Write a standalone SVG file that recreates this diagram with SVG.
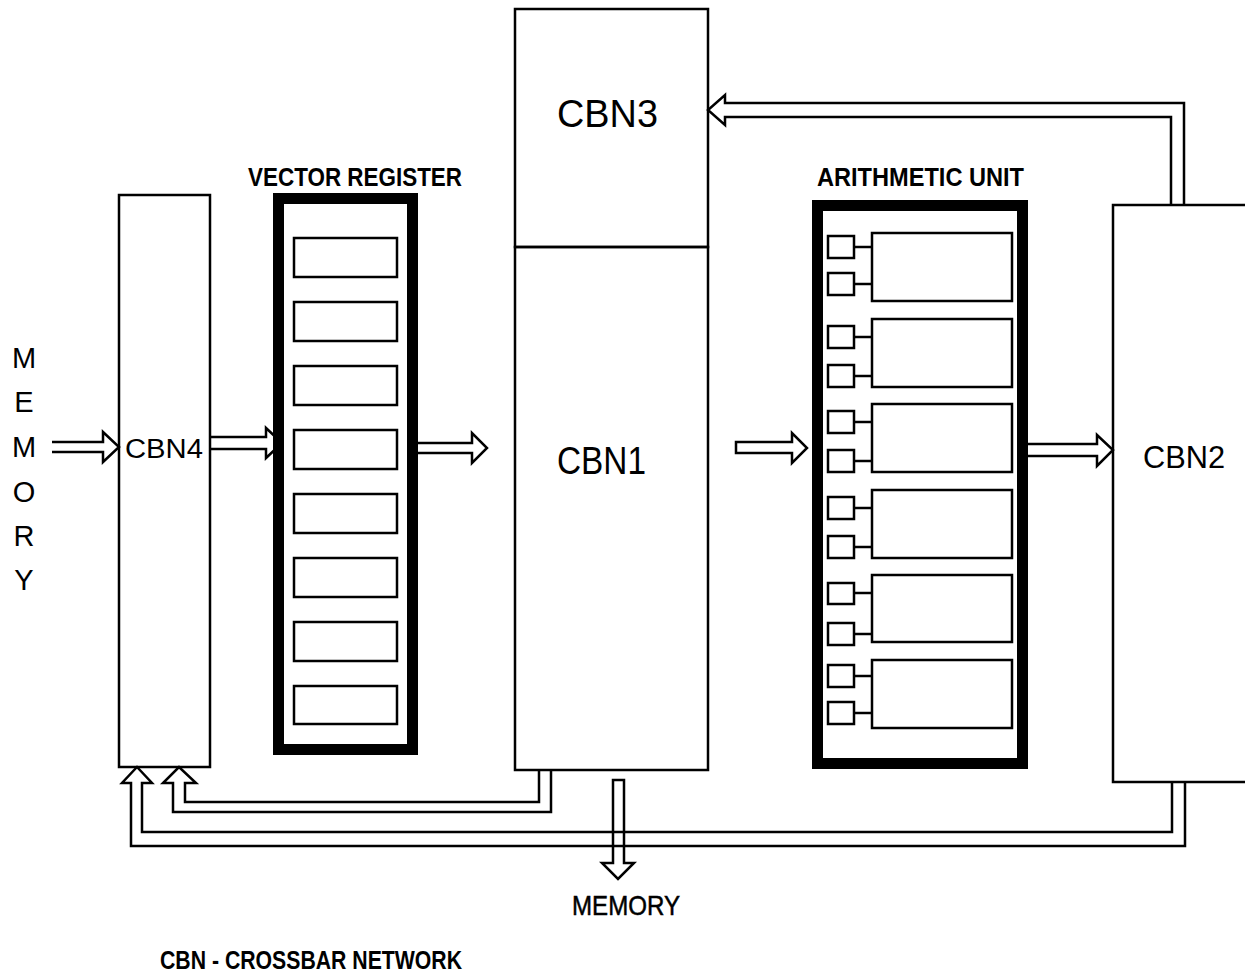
<svg xmlns="http://www.w3.org/2000/svg" width="1245" height="975" viewBox="0 0 1245 975">
<style>
.box{fill:none;stroke:#000;stroke-width:2.5}
.frame{fill:none;stroke:#000;stroke-width:11}
.cell{fill:none;stroke:#000;stroke-width:2.5}
.arr{fill:#fff;stroke:#000;stroke-width:2.5;stroke-linejoin:miter}
.arrn{fill:none;stroke:#000;stroke-width:2.5;stroke-linejoin:miter}
.lbl{font-family:"Liberation Sans",Arial,sans-serif;fill:#000}
.big{font-weight:normal}
.hd{font-weight:bold;font-size:25px}
</style>
<rect width="1245" height="975" fill="#fff"/>
<g id="connectors">
<path class="arr" d="M52,442 H103 V432 L119,447 L103,462 V452 H52"/>
<path class="arr" d="M210,437 H266 V428 L282,443 L266,458 V449 H210"/>
<path class="arr" d="M413,443 H472 V433 L487,448 L472,463 V453 H413"/>
<path class="arr" d="M736,442 H792 V433 L807,448 L792,463 V453 H736 Z"/>
<path class="arr" d="M1023,444 H1097 V435 L1113,450 L1097,466 V456 H1023"/>
<ellipse cx="1021" cy="449" rx="4" ry="6" fill="#000"/>
<path class="arrn" d="M1184,205 V103 H725 V95 L708,110 L725,125 V117 H1171 V205"/>
<path class="arrn" d="M539,770 V802 H185 V783 H196 L179,767 L163,783 H173 V812 H551 V770"/>
<path class="arrn" d="M1172,782 V832 H142 V783 H152 L137,767 L122,783 H131 V846 H1185 V782"/>
<path class="arrn" d="M613,780 V863 H602 L618,879 L634,863 H624 V780 Z"/>
</g>
<g id="memory-in">
<text class="lbl" font-size="29" text-anchor="middle" x="24" y="368">M</text>
<text class="lbl" font-size="29" text-anchor="middle" x="24" y="412">E</text>
<text class="lbl" font-size="29" text-anchor="middle" x="24" y="457">M</text>
<text class="lbl" font-size="29" text-anchor="middle" x="24" y="502">O</text>
<text class="lbl" font-size="29" text-anchor="middle" x="24" y="546">R</text>
<text class="lbl" font-size="29" text-anchor="middle" x="24" y="590">Y</text>
</g>
<g id="cbn4">
<rect class="box" x="119" y="195" width="91" height="572"/>
<text class="lbl" font-size="27" x="125" y="458" textLength="78" lengthAdjust="spacingAndGlyphs">CBN4</text>
</g>
<g id="vector-register">
<text class="lbl hd" x="248" y="186" textLength="214" lengthAdjust="spacingAndGlyphs">VECTOR REGISTER</text>
<rect class="frame" x="278.5" y="198.5" width="134" height="551"/>
<rect class="cell" x="294" y="238" width="103" height="39"/>
<rect class="cell" x="294" y="302" width="103" height="39"/>
<rect class="cell" x="294" y="366" width="103" height="39"/>
<rect class="cell" x="294" y="430" width="103" height="39"/>
<rect class="cell" x="294" y="494" width="103" height="39"/>
<rect class="cell" x="294" y="558" width="103" height="39"/>
<rect class="cell" x="294" y="622" width="103" height="39"/>
<rect class="cell" x="294" y="686" width="103" height="38"/>
</g>
<g id="cbn3">
<rect class="box" x="515" y="9" width="193" height="238"/>
<text class="lbl" font-size="39" x="557" y="127" textLength="101" lengthAdjust="spacingAndGlyphs">CBN3</text>
</g>
<g id="cbn1">
<rect class="box" x="515" y="247" width="193" height="523"/>
<text class="lbl" font-size="38" x="557" y="474" textLength="89" lengthAdjust="spacingAndGlyphs">CBN1</text>
</g>
<g id="arithmetic-unit">
<text class="lbl hd" x="817" y="186" textLength="207" lengthAdjust="spacingAndGlyphs">ARITHMETIC UNIT</text>
<rect class="frame" x="817.5" y="205.5" width="205" height="558"/>
<g id="au1">
<rect class="cell" x="872" y="233" width="140" height="68"/>
<rect class="cell" x="828" y="236" width="26" height="22"/><line class="cell" x1="854" y1="247" x2="872" y2="247"/>
<rect class="cell" x="828" y="273" width="26" height="22"/><line class="cell" x1="854" y1="284" x2="872" y2="284"/>
</g>
<g id="au2">
<rect class="cell" x="872" y="319" width="140" height="68"/>
<rect class="cell" x="828" y="326" width="26" height="22"/><line class="cell" x1="854" y1="337" x2="872" y2="337"/>
<rect class="cell" x="828" y="365" width="26" height="22"/><line class="cell" x1="854" y1="376" x2="872" y2="376"/>
</g>
<g id="au3">
<rect class="cell" x="872" y="404" width="140" height="68"/>
<rect class="cell" x="828" y="411" width="26" height="22"/><line class="cell" x1="854" y1="422" x2="872" y2="422"/>
<rect class="cell" x="828" y="450" width="26" height="22"/><line class="cell" x1="854" y1="461" x2="872" y2="461"/>
</g>
<g id="au4">
<rect class="cell" x="872" y="490" width="140" height="68"/>
<rect class="cell" x="828" y="497" width="26" height="22"/><line class="cell" x1="854" y1="508" x2="872" y2="508"/>
<rect class="cell" x="828" y="536" width="26" height="22"/><line class="cell" x1="854" y1="547" x2="872" y2="547"/>
</g>
<g id="au5">
<rect class="cell" x="872" y="575" width="140" height="67"/>
<rect class="cell" x="828" y="583" width="26" height="21"/><line class="cell" x1="854" y1="593" x2="872" y2="593"/>
<rect class="cell" x="828" y="623" width="26" height="22"/><line class="cell" x1="854" y1="634" x2="872" y2="634"/>
</g>
<g id="au6">
<rect class="cell" x="872" y="660" width="140" height="68"/>
<rect class="cell" x="828" y="665" width="26" height="22"/><line class="cell" x1="854" y1="676" x2="872" y2="676"/>
<rect class="cell" x="828" y="702" width="26" height="22"/><line class="cell" x1="854" y1="713" x2="872" y2="713"/>
</g>
</g>
<g id="cbn2">
<path class="box" d="M1250,205 H1113 V782 H1250"/>
<text class="lbl" font-size="32" x="1143" y="468" textLength="82" lengthAdjust="spacingAndGlyphs">CBN2</text>
</g>
<g id="memory-out">
<text class="lbl" font-size="28" x="572" y="915" textLength="108" lengthAdjust="spacingAndGlyphs" stroke="#000" stroke-width="0.5">MEMORY</text>
</g>
<g id="legend">
<text class="lbl hd" x="160" y="969" textLength="302" lengthAdjust="spacingAndGlyphs">CBN - CROSSBAR NETWORK</text>
</g>
</svg>
